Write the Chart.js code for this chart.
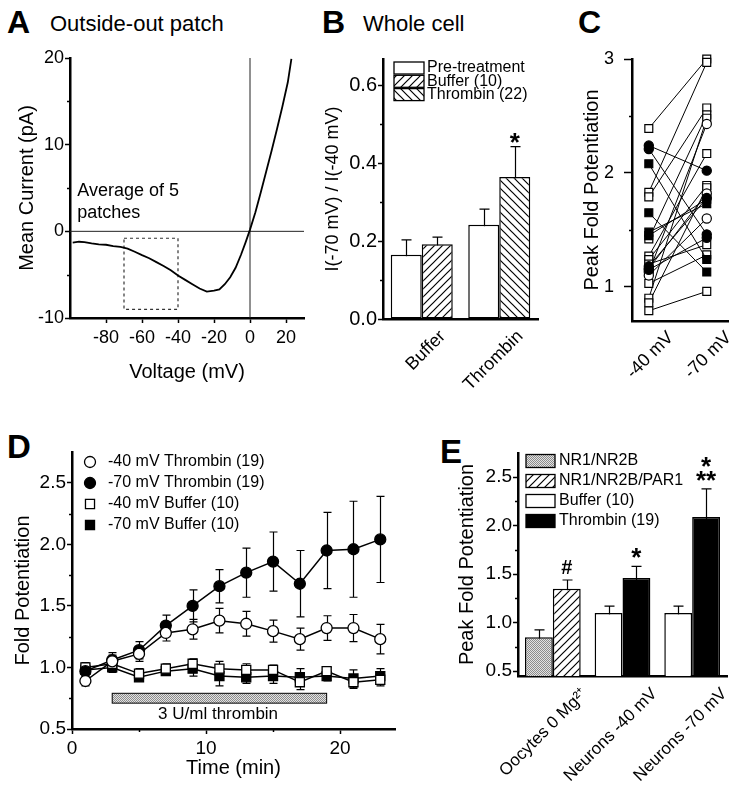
<!DOCTYPE html>
<html>
<head>
<meta charset="utf-8">
<script src="https://cdn.jsdelivr.net/npm/chart.js@4.4.1/dist/chart.umd.min.js"></script>
<style>
  body { margin: 0; width: 735px; height: 792px; background: #fff; position: relative; overflow: hidden;
         font-family: "Liberation Sans", Arial, sans-serif; }
  canvas { position: absolute; }
  .lbl { position: absolute; line-height: 1; white-space: nowrap; color: #000; }
  .big { font-weight: bold; }
</style>
</head>
<body>
<div class="lbl big" style="left:7px;top:6px;font-size:32px">A</div>
<div class="lbl" style="left:50px;top:13px;font-size:22px">Outside-out patch</div>
<div class="lbl big" style="left:322px;top:6px;font-size:32px">B</div>
<div class="lbl" style="left:363px;top:13px;font-size:22px">Whole cell</div>
<div class="lbl big" style="left:578px;top:6px;font-size:32px">C</div>
<div class="lbl big" style="left:7px;top:430px;font-size:33px">D</div>
<div class="lbl big" style="left:440px;top:435px;font-size:33px">E</div>

<canvas id="chartA" width="320" height="350" style="left:0;top:40px"></canvas>
<canvas id="chartB" width="230" height="350" style="left:320px;top:40px"></canvas>
<canvas id="chartC" width="185" height="350" style="left:550px;top:40px"></canvas>
<canvas id="chartD" width="420" height="372" style="left:0;top:420px"></canvas>
<canvas id="chartE" width="315" height="372" style="left:420px;top:420px"></canvas>

<script>
// ---- data: A (outside-out patch I-V) ----
const voltageA = [-98.5, -95, -92, -88, -84, -80, -76, -72, -68, -64, -60, -56, -52, -48, -44, -40,
  -36, -32, -28, -24, -20, -17, -14, -11, -8, -5, -2.5, 0, 3, 6, 9, 12, 15, 18, 21, 23];
const currentA = [-1.3, -1.2, -1.25, -1.4, -1.5, -1.55, -1.7, -1.8, -2.0, -2.35, -2.75, -3.1, -3.55, -4.0, -4.5, -5.1,
  -5.6, -6.1, -6.6, -6.95, -6.85, -6.7, -6.1, -5.3, -4.2, -2.7, -1.3, 0.2, 2.2, 4.5, 6.9, 9.3, 11.8, 14.4, 17.2, 19.9];
const xTicksA = [-80, -60, -40, -20, 0, 20];
const yTicksA = [-10, 0, 10, 20];
const yMinorA = [-5, 5, 15];
const zeroLineX = [-100, 30];
const zeroLineY = [-10, 20];
const boxVoltA = [-70, -40];
const boxCurrA = [-9, -0.8];

// ---- data: B (whole cell ratio) ----
const categoriesB = ["Buffer", "Thrombin"];
const preB = [0.165, 0.242];
const preErrB = [0.038, 0.04];
const bufferB = [0.192, null];
const bufferErrB = [0.018, null];
const thrombinB = [null, 0.364];
const thrombinErrB = [null, 0.078];
const yTicksB = [0, 0.2, 0.4, 0.6];
const yMinorB = [0.1, 0.3, 0.5];

// ---- data: C (paired peak fold potentiation) ----
const labelsC = ["-40 mV", "-70 mV"];
const openSqLeftC = [2.39, 1.83, 1.79, 1.42, 1.27, 1.24, 1.03, 0.90, 0.86, 0.79, 1.20];
const openSqRightC = [3.00, 2.97, 2.57, 2.51, 2.17, 1.89, 1.28, 2.48, 1.87, 0.96, 1.37];
const filledSqLeftC = [2.08, 1.65, 1.48, 1.45];
const filledSqRightC = [1.24, 1.13, 1.73, 1.77];
const filledCircLeftC = [2.24, 2.21, 1.18, 1.15];
const filledCircRightC = [2.02, 1.46, 1.78, 1.43];
const openCircLeftC = [1.13, 1.10, 1.16];
const openCircRightC = [2.43, 1.60, 1.82];
const yTicksC = [1, 2, 3];
const yMinorC = [1.5, 2.5];

// ---- data: D (time course) ----
const timeD = [1, 3, 5, 7, 9, 11, 13, 15, 17, 19, 21, 23];
const thr40D = [0.89, 1.05, 1.11, 1.28, 1.31, 1.38, 1.355, 1.295, 1.23, 1.32, 1.32, 1.23];
const thr40ErrD = [0.04, 0.05, 0.06, 0.065, 0.08, 0.1, 0.1, 0.09, 0.09, 0.1, 0.11, 0.12];
const thr70D = [0.97, 1.06, 1.14, 1.34, 1.50, 1.66, 1.77, 1.86, 1.68, 1.95, 1.96, 2.04];
const thr70ErrD = [0.05, 0.06, 0.07, 0.085, 0.13, 0.135, 0.2, 0.24, 0.27, 0.31, 0.39, 0.35];
const buf40D = [1.00, 1.03, 0.95, 0.99, 1.03, 0.99, 0.98, 0.98, 0.88, 0.97, 0.88, 0.90];
const buf40ErrD = [0.04, 0.05, 0.04, 0.04, 0.04, 0.06, 0.05, 0.04, 0.06, 0.03, 0.05, 0.05];
const buf70D = [0.98, 1.00, 0.92, 0.97, 0.99, 0.93, 0.92, 0.93, 0.92, 0.93, 0.91, 0.93];
const buf70ErrD = [0.05, 0.04, 0.03, 0.03, 0.06, 0.08, 0.05, 0.06, 0.07, 0.04, 0.07, 0.06];
const thrombinTimeD = [3, 19];
const thrombinBarD = [0.71, 0.79];
const xTicksD = [0, 10, 20];
const xMinorD = [5, 15];
const yTicksD = [0.5, 1.0, 1.5, 2.0, 2.5];
const yMinorD = [0.75, 1.25, 1.75, 2.25];

// ---- data: E (peak fold potentiation) ----
const categoriesE = ["Oocytes 0 Mg²⁺", "Neurons -40 mV", "Neurons -70 mV"];
const nr2bE = [0.85, null, null];
const nr2bErrE = [0.075, null, null];
const par1E = [1.35, null, null];
const par1ErrE = [0.09, null, null];
const bufferE = [null, 1.10, 1.10];
const bufferErrE = [null, 0.07, 0.07];
const thrombinE = [null, 1.46, 2.09];
const thrombinErrE = [null, 0.12, 0.29];
const yTicksE = [0.5, 1.0, 1.5, 2.0, 2.5];
const yMinorE = [0.75, 1.25, 1.75, 2.25];

const FONT = '"Liberation Sans", Arial, sans-serif';
Chart.defaults.font.family = FONT;
Chart.defaults.color = "#000";
Chart.defaults.animation = false;
Chart.defaults.plugins.legend.display = false;
Chart.defaults.plugins.tooltip.enabled = false;

// fill patterns
function makePattern(size, draw) {
  const c = document.createElement("canvas");
  c.width = c.height = size;
  const g = c.getContext("2d");
  g.fillStyle = "#fff";
  g.fillRect(0, 0, size, size);
  draw(g, size);
  return g.createPattern(c, "repeat");
}
const hatchFwd = makePattern(8, (g, s) => {
  g.strokeStyle = "#000"; g.lineWidth = 1.2; g.beginPath();
  g.moveTo(0, s); g.lineTo(s, 0);
  g.moveTo(-1, 1); g.lineTo(1, -1);
  g.moveTo(s - 1, s + 1); g.lineTo(s + 1, s - 1);
  g.stroke();
});
const hatchBack = makePattern(8, (g, s) => {
  g.strokeStyle = "#000"; g.lineWidth = 1.2; g.beginPath();
  g.moveTo(0, 0); g.lineTo(s, s);
  g.moveTo(s - 1, -1); g.lineTo(s + 1, 1);
  g.moveTo(-1, s - 1); g.lineTo(1, s + 1);
  g.stroke();
});
const stipple = makePattern(2, (g) => {
  g.fillStyle = "#e2e2e2"; g.fillRect(0, 0, 2, 2);
  g.fillStyle = "#8c8c8c"; g.fillRect(0, 0, 1, 1); g.fillRect(1, 1, 1, 1);
});

function drawMarker(ctx, style, x, y, r, fill) {
  ctx.beginPath();
  if (style === "rect") {
    const h = r * Math.SQRT1_2;
    ctx.rect(x - h, y - h, 2 * h, 2 * h);
  } else {
    ctx.arc(x, y, r, 0, Math.PI * 2);
  }
  ctx.fillStyle = fill; ctx.fill();
  ctx.lineWidth = 1.3; ctx.strokeStyle = "#000"; ctx.stroke();
}

// error bars, shaded period, minor ticks, notes and legends
const extras = {
  id: "extras",
  beforeDatasetsDraw(chart, args, o) {
    const ctx = chart.ctx, xs = chart.scales.x, ys = chart.scales.y;
    if (o.period) {
      const p = o.period;
      const x0 = xs.getPixelForValue(p.x[0]), x1 = xs.getPixelForValue(p.x[1]);
      const y0 = ys.getPixelForValue(p.y[1]), y1 = ys.getPixelForValue(p.y[0]);
      ctx.save();
      ctx.fillStyle = p.fill; ctx.fillRect(x0, y0, x1 - x0, y1 - y0);
      ctx.strokeStyle = "#000"; ctx.lineWidth = 1; ctx.strokeRect(x0, y0, x1 - x0, y1 - y0);
      ctx.restore();
    }
    chart.data.datasets.forEach((ds, i) => {
      if (!ds.errors) return;
      const meta = chart.getDatasetMeta(i);
      ctx.save();
      ctx.strokeStyle = "#000"; ctx.lineWidth = o.errWidth || 1.2;
      const c = (o.cap || 8) / 2;
      meta.data.forEach((el, j) => {
        const raw = ds.data[j];
        const v = raw !== null && typeof raw === "object" ? raw.y : raw;
        const e = ds.errors[j];
        if (v == null || e == null) return;
        const x = Math.round(el.x) + 0.5;
        const yt = ys.getPixelForValue(v + e), yb = ys.getPixelForValue(v - e);
        ctx.beginPath();
        ctx.moveTo(x, yt); ctx.lineTo(x, yb);
        ctx.moveTo(x - c, yt); ctx.lineTo(x + c, yt);
        ctx.moveTo(x - c, yb); ctx.lineTo(x + c, yb);
        ctx.stroke();
      });
      ctx.restore();
    });
  },
  afterDraw(chart, args, o) {
    const ctx = chart.ctx, area = chart.chartArea, xs = chart.scales.x, ys = chart.scales.y;
    ctx.save();
    ctx.strokeStyle = "#000"; ctx.lineWidth = 1.5;
    (o.minorY || []).forEach(v => {
      const y = Math.round(ys.getPixelForValue(v)) + 0.5;
      ctx.beginPath(); ctx.moveTo(area.left - 3, y); ctx.lineTo(area.left, y); ctx.stroke();
    });
    (o.minorX || []).forEach(v => {
      const x = Math.round(xs.getPixelForValue(v)) + 0.5;
      ctx.beginPath(); ctx.moveTo(x, area.bottom); ctx.lineTo(x, area.bottom + 3); ctx.stroke();
    });
    (o.texts || []).forEach(t => {
      ctx.font = t.font; ctx.fillStyle = "#000";
      ctx.textAlign = t.align || "center"; ctx.textBaseline = "middle";
      const x = t.ds != null ? chart.getDatasetMeta(t.ds).data[t.index].x : xs.getPixelForValue(t.x);
      ctx.fillText(t.text, x, ys.getPixelForValue(t.y));
    });
    if (o.legend) {
      const L = o.legend;
      ctx.font = L.font; ctx.textAlign = "left"; ctx.textBaseline = "middle";
      chart.data.datasets.forEach((ds, i) => {
        const y = L.y + i * L.dy;
        if (L.kind === "box") {
          ctx.fillStyle = ds.backgroundColor;
          ctx.fillRect(L.x, y - L.h / 2, L.w, L.h);
          ctx.lineWidth = 1.3; ctx.strokeStyle = "#000";
          ctx.strokeRect(L.x, y - L.h / 2, L.w, L.h);
        } else {
          drawMarker(ctx, ds.pointStyle, L.x, y, ds.pointRadius, ds.pointBackgroundColor);
        }
        ctx.fillStyle = "#000";
        ctx.fillText(ds.label, L.textX, y);
      });
    }
    ctx.restore();
  }
};
Chart.register(extras);

// pin axis boxes so each plot area sits where the figure has it
function pinY(w) { return s => { s.width = w; s.paddingTop = 0; s.paddingBottom = 0; }; }
function pinX(h) { return s => { s.height = h; s.paddingLeft = 0; s.paddingRight = 0; }; }
function fixTicks(list) { return s => { s.ticks = list.map(v => ({ value: v })); }; }

function yAxis(min, max, ticks, width, size, fmt, title, tl) {
  return {
    type: "linear", min: min, max: max,
    afterBuildTicks: fixTicks(ticks), afterFit: pinY(width),
    border: { color: "#000", width: 2.5 },
    grid: { drawOnChartArea: false, color: "#000", tickColor: "#000", tickLength: tl || 5, tickWidth: 1.5 },
    ticks: { padding: tl ? 10 : 1, font: { size: size }, callback: fmt },
    title: title
  };
}

// ---- chart A ----
new Chart(document.getElementById("chartA"), {
  type: "scatter",
  data: {
    datasets: [
      { data: voltageA.map((v, i) => ({ x: v, y: currentA[i] })), showLine: true,
        borderColor: "#000", borderWidth: 1.8, pointRadius: 0 },
      { data: zeroLineX.map(v => ({ x: v, y: 0 })), showLine: true,
        borderColor: "#222", borderWidth: 1, pointRadius: 0 },
      { data: zeroLineY.map(v => ({ x: 0, y: v })), showLine: true,
        borderColor: "#222", borderWidth: 1, pointRadius: 0 },
      { data: [
          { x: boxVoltA[0], y: boxCurrA[1] }, { x: boxVoltA[1], y: boxCurrA[1] },
          { x: boxVoltA[1], y: boxCurrA[0] }, { x: boxVoltA[0], y: boxCurrA[0] },
          { x: boxVoltA[0], y: boxCurrA[1] }],
        showLine: true, borderColor: "#333", borderWidth: 1.2, borderDash: [3, 3], pointRadius: 0 }
    ]
  },
  options: {
    responsive: false,
    layout: { padding: { left: 0, right: 16, top: 18, bottom: 0 } },
    scales: {
      x: {
        type: "linear", min: -100, max: 30,
        afterBuildTicks: fixTicks(xTicksA), afterFit: pinX(72),
        border: { color: "#000", width: 2.5 },
        grid: { drawOnChartArea: false, tickColor: "#000", tickLength: 5, tickWidth: 1.5 },
        ticks: { padding: 4, font: { size: 18 } },
        title: { display: true, text: "Voltage (mV)", font: { size: 20 }, padding: { bottom: 6 } }
      },
      y: yAxis(-10, 20, yTicksA, 70, 18, v => v,
        { display: true, text: "Mean Current (pA)", font: { size: 20 }, padding: { top: 15 } })
    },
    plugins: {
      extras: {
        minorY: yMinorA,
        texts: [
          { x: -96, y: 4.6, text: "Average of 5", font: "18px " + FONT, align: "left" },
          { x: -96, y: 2.1, text: "patches", font: "18px " + FONT, align: "left" }
        ]
      }
    }
  }
});

// ---- chart B ----
new Chart(document.getElementById("chartB"), {
  type: "bar",
  data: {
    labels: categoriesB,
    datasets: [
      { label: "Pre-treatment", data: preB, errors: preErrB, backgroundColor: "#fff" },
      { label: "Buffer (10)", data: bufferB, errors: bufferErrB, backgroundColor: hatchFwd },
      { label: "Thrombin (22)", data: thrombinB, errors: thrombinErrB, backgroundColor: hatchBack }
    ]
  },
  options: {
    responsive: false,
    layout: { padding: { left: 0, right: 12, top: 19, bottom: 0 } },
    datasets: { bar: { skipNull: true, categoryPercentage: 0.8, barPercentage: 1,
      borderColor: "#000", borderWidth: 1.5, borderSkipped: false } },
    scales: {
      x: {
        z: 1, afterFit: pinX(71),
        border: { color: "#000", width: 2.5 },
        grid: { drawOnChartArea: false, drawTicks: false },
        ticks: { padding: 7, labelOffset: 21, minRotation: 45, maxRotation: 45, font: { size: 18 } }
      },
      y: yAxis(0, 0.667, yTicksB, 63, 20, v => v.toFixed(1),
        { display: true, text: "I(-70 mV) / I(-40 mV)", font: { size: 18 }, padding: { top: 2 } })
    },
    plugins: {
      extras: {
        cap: 10, minorY: yMinorB,
        texts: [{ ds: 2, index: 1, y: 0.45, text: "*", font: "bold 26px " + FONT }],
        legend: { kind: "box", x: 74, y: 28, dy: 13.3, w: 30, h: 12, textX: 107, font: "16px " + FONT }
      }
    }
  }
});

// ---- chart C ----
function pairs(left, right) {
  const out = [];
  left.forEach((v, i) => { out.push({ x: 0, y: v }, { x: 1, y: right[i] }, { x: 0.5, y: null }); });
  return out;
}
function pairSet(left, right, style, fill, r) {
  return { data: pairs(left, right), showLine: true, spanGaps: false, clip: false,
    borderColor: "#000", borderWidth: 1, pointStyle: style, pointRadius: r,
    pointBackgroundColor: fill, pointBorderColor: "#000", pointBorderWidth: 1.2 };
}
new Chart(document.getElementById("chartC"), {
  type: "scatter",
  data: {
    datasets: [
      pairSet(filledCircLeftC, filledCircRightC, "circle", "#000", 4.6),
      pairSet(openCircLeftC, openCircRightC, "circle", "#fff", 4.6),
      pairSet(filledSqLeftC, filledSqRightC, "rect", "#000", 5.6),
      pairSet(openSqLeftC, openSqRightC, "rect", "#fff", 5.6)
    ]
  },
  options: {
    responsive: false,
    layout: { padding: { left: 0, right: 0, top: 19, bottom: 0 } },
    scales: {
      x: {
        type: "linear", min: -0.29, max: 1.37,
        afterBuildTicks: fixTicks([0, 1]), afterFit: pinX(69),
        border: { color: "#000", width: 2.5 },
        grid: { drawOnChartArea: false, drawTicks: false },
        ticks: { padding: 6, labelOffset: 22, minRotation: 45, maxRotation: 45,
          font: { size: 18 }, callback: v => labelsC[v] }
      },
      y: yAxis(0.7, 3, yTicksC, 82, 18, v => v,
        { display: true, text: "Peak Fold Potentiation", font: { size: 20 }, padding: { top: 30 } }, 8)
    },
    plugins: { extras: { minorY: yMinorC } }
  }
});

// ---- chart D ----
function series(label, values, errs, style, fill, r) {
  return { label: label, data: timeD.map((t, i) => ({ x: t, y: values[i] })), errors: errs,
    showLine: true, clip: false, borderColor: "#000", borderWidth: 1.5,
    pointStyle: style, pointRadius: r, pointBackgroundColor: fill,
    pointBorderColor: "#000", pointBorderWidth: 1.3 };
}
new Chart(document.getElementById("chartD"), {
  type: "scatter",
  data: {
    datasets: [
      series("-40 mV Thrombin (19)", thr40D, thr40ErrD, "circle", "#fff", 5.5),
      series("-70 mV Thrombin (19)", thr70D, thr70ErrD, "circle", "#000", 5.5),
      series("-40 mV Buffer (10)", buf40D, buf40ErrD, "rect", "#fff", 6.4),
      series("-70 mV Buffer (10)", buf70D, buf70ErrD, "rect", "#000", 6.4)
    ]
  },
  options: {
    responsive: false,
    layout: { padding: { left: 0, right: 25, top: 32, bottom: 0 } },
    scales: {
      x: {
        type: "linear", min: 0, max: 24.1,
        afterBuildTicks: fixTicks(xTicksD), afterFit: pinX(63),
        border: { color: "#000", width: 2.5 },
        grid: { drawOnChartArea: false, tickColor: "#000", tickLength: 5, tickWidth: 1.5 },
        ticks: { padding: 3, font: { size: 19 } },
        title: { display: true, text: "Time (min)", font: { size: 20 }, padding: { bottom: 12 } }
      },
      y: yAxis(0.5, 2.75, yTicksD, 72, 19, v => v.toFixed(1),
        { display: true, text: "Fold Potentiation", font: { size: 20 }, padding: { top: 11 } })
    },
    plugins: {
      extras: {
        cap: 8, minorY: yMinorD, minorX: xMinorD,
        period: { x: thrombinTimeD, y: thrombinBarD, fill: stipple },
        texts: [{ x: 10.9, y: 0.62, text: "3 U/ml thrombin", font: "17px " + FONT }],
        legend: { kind: "point", x: 90, y: 42, dy: 21, textX: 108, font: "16px " + FONT }
      }
    }
  }
});

// ---- chart E ----
new Chart(document.getElementById("chartE"), {
  type: "bar",
  data: {
    labels: categoriesE,
    datasets: [
      { label: "NR1/NR2B", data: nr2bE, errors: nr2bErrE, backgroundColor: stipple },
      { label: "NR1/NR2B/PAR1", data: par1E, errors: par1ErrE, backgroundColor: hatchFwd },
      { label: "Buffer (10)", data: bufferE, errors: bufferErrE, backgroundColor: "#fff" },
      { label: "Thrombin (19)", data: thrombinE, errors: thrombinErrE, backgroundColor: "#000" }
    ]
  },
  options: {
    responsive: false,
    layout: { padding: { left: 0, right: 8, top: 33, bottom: 0 } },
    datasets: { bar: { skipNull: true, categoryPercentage: 0.8, barPercentage: 1,
      borderColor: "#000", borderWidth: 1.5, borderSkipped: false } },
    scales: {
      x: {
        z: 1, afterFit: pinX(116),
        border: { color: "#000", width: 2.5 },
        grid: { drawOnChartArea: false, drawTicks: false },
        ticks: { padding: 8, labelOffset: 32, minRotation: 45, maxRotation: 45, font: { size: 17 } }
      },
      y: yAxis(0.45, 2.75, yTicksE, 98, 19, v => v.toFixed(1),
        { display: true, text: "Peak Fold Potentiation", font: { size: 20 }, padding: { top: 35 } })
    },
    plugins: {
      extras: {
        cap: 10, minorY: yMinorE,
        texts: [
          { ds: 1, index: 0, y: 1.56, text: "#", font: "bold 20px " + FONT },
          { ds: 3, index: 1, y: 1.66, text: "*", font: "bold 26px " + FONT },
          { ds: 3, index: 2, y: 2.60, text: "*", font: "bold 26px " + FONT },
          { ds: 3, index: 2, y: 2.45, text: "**", font: "bold 26px " + FONT }
        ],
        legend: { kind: "box", x: 106, y: 41, dy: 20, w: 29, h: 13, textX: 139, font: "16px " + FONT }
      }
    }
  }
});
</script>
</body>
</html>
